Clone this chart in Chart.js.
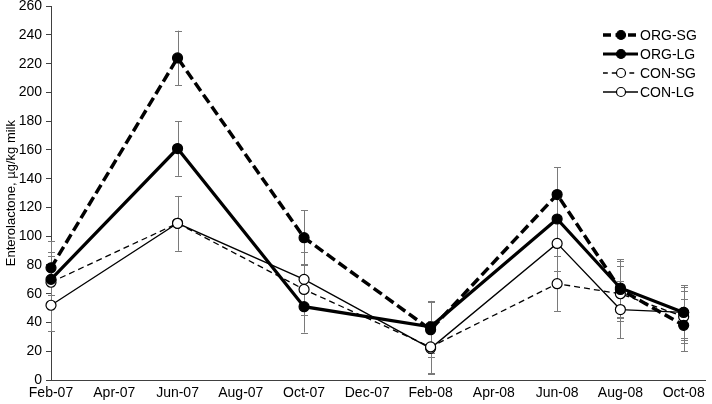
<!DOCTYPE html>
<html><head><meta charset="utf-8">
<script src="https://cdn.jsdelivr.net/npm/chart.js@4.4.1/dist/chart.umd.min.js"></script>
<style>html,body{margin:0;padding:0;background:#fff}#wrap{width:712px;height:404px}</style>
</head><body><div id="wrap"><canvas id="c" width="712" height="404"></canvas></div>
<script>
// months since Feb-07
const monthIndex = [0, 4, 8, 12, 16, 18, 20];
const seriesNames = ['ORG-SG', 'ORG-LG', 'CON-SG', 'CON-LG'];
const orgSG = [78, 224, 99, 35, 129, 63, 38];
const orgLG = [70, 161, 51, 37, 112, 64, 47];
const conSG = [68, 109, 63, 23, 67, 60, 44];
const conLG = [52, 109, 70, 22, 95, 49, 47];
const orgSGErr = [19, 19, 19, 19, 19, 20, 18];
const orgLGErr = [19, 19, 18, 18, 19, 20, 19];
const conSGErr = [18, 19, 18, 18, 19, 19, 18];
const conLGErr = [18, 19, 19, 18, 19, 20, 18];
const xTickPositions = [0, 2, 4, 6, 8, 10, 12, 14, 16, 18, 20];
const xTickLabels = ['Feb-07','Apr-07','Jun-07','Aug-07','Oct-07','Dec-07','Feb-08','Apr-08','Jun-08','Aug-08','Oct-08'];
const yAxisTitle = 'Enterolactone, µg/kg milk';

const FONT = 'Arial, "Liberation Sans", sans-serif';

const styles = [
  {bw: 3.5, dash: [10, 4.5], fill: '#000', r: 5},
  {bw: 3.2, dash: [], fill: '#000', r: 5},
  {bw: 1.3, dash: [6, 4], fill: '#fff', r: 5},
  {bw: 1.3, dash: [], fill: '#fff', r: 5}
];
const values = [orgSG, orgLG, conSG, conLG];
const errors = [orgSGErr, orgLGErr, conSGErr, conLGErr];

const datasets = values.map((vals, i) => ({
  label: seriesNames[i],
  data: vals.map((v, j) => ({x: monthIndex[j], y: v})),
  errors: errors[i],
  borderColor: '#000',
  borderWidth: styles[i].bw,
  borderDash: styles[i].dash,
  pointRadius: styles[i].r,
  pointBackgroundColor: styles[i].fill,
  pointBorderColor: '#000',
  pointBorderWidth: 1.2,
  tension: 0,
  clip: false
}));

const errorBars = {
  id: 'errorBars',
  beforeDatasetsDraw(chart) {
    const ctx = chart.ctx, xs = chart.scales.x, ys = chart.scales.y;
    ctx.save();
    ctx.strokeStyle = '#7a7a7a';
    ctx.lineWidth = 1;
    chart.data.datasets.forEach(ds => {
      ds.data.forEach((p, j) => {
        const e = ds.errors[j];
        const x = Math.round(xs.getPixelForValue(p.x)) + 0.5;
        const y1 = ys.getPixelForValue(p.y + e), y2 = ys.getPixelForValue(p.y - e);
        ctx.beginPath();
        ctx.moveTo(x, y1); ctx.lineTo(x, y2);
        ctx.moveTo(x - 3.5, Math.round(y1) + 0.5); ctx.lineTo(x + 3.5, Math.round(y1) + 0.5);
        ctx.moveTo(x - 3.5, Math.round(y2) + 0.5); ctx.lineTo(x + 3.5, Math.round(y2) + 0.5);
        ctx.stroke();
      });
    });
    ctx.restore();
  }
};

const legendRows = [35, 54, 73, 92];
const customLegend = {
  id: 'customLegend',
  afterDraw(chart) {
    const ctx = chart.ctx;
    ctx.save();
    seriesNames.forEach((name, i) => {
      const y = legendRows[i];
      const s = styles[i];
      ctx.strokeStyle = '#000';
      ctx.lineWidth = s.bw;
      ctx.setLineDash(s.dash.length ? [s.dash[0] * 0.8, s.dash[1]] : []);
      ctx.beginPath();
      ctx.moveTo(603, y); ctx.lineTo(638, y);
      ctx.stroke();
      ctx.setLineDash([]);
      ctx.beginPath();
      ctx.arc(621, y, s.r - 0.5, 0, Math.PI * 2);
      ctx.fillStyle = s.fill;
      ctx.fill();
      ctx.lineWidth = 1.2;
      ctx.stroke();
      ctx.fillStyle = '#000';
      ctx.font = '14px ' + FONT;
      ctx.textAlign = 'left';
      ctx.textBaseline = 'middle';
      ctx.fillText(name, 640, y + 1);
    });
    ctx.restore();
  }
};

new Chart(document.getElementById('c'), {
  type: 'line',
  data: {datasets},
  plugins: [errorBars, customLegend],
  options: {
    responsive: false,
    animation: false,
    devicePixelRatio: 1,
    layout: {padding: {top: 5, left: 0, right: 0, bottom: 0}},
    plugins: {legend: {display: false}, tooltip: {enabled: false}},
    scales: {
      x: {
        type: 'linear',
        min: 0,
        max: 20.7,
        afterBuildTicks(scale) { scale.ticks = xTickPositions.map(v => ({value: v})); },
        afterFit(scale) { scale.height = 24; scale.paddingRight = 0; scale.paddingLeft = 0; },
        ticks: {
          autoSkip: false, maxRotation: 0,
          color: '#000', font: {family: FONT, size: 14}, padding: 5,
          callback: (v) => { const k = xTickPositions.indexOf(v); return k >= 0 ? xTickLabels[k] : ''; }
        },
        grid: {display: true, drawOnChartArea: false, drawTicks: false},
        border: {display: true, color: '#404040', width: 1}
      },
      y: {
        type: 'linear',
        min: 0, max: 260,
        afterFit(scale) { scale.width = 51; scale.paddingTop = 0; scale.paddingBottom = 0; },
        ticks: {stepSize: 20, color: '#000', font: {family: FONT, size: 14}, padding: 4},
        grid: {display: true, drawOnChartArea: false, drawTicks: true, tickLength: 5, color: '#404040'},
        border: {display: true, color: '#404040', width: 1},
        title: {display: true, text: yAxisTitle, color: '#000', font: {family: FONT, size: 13}, padding: {top: 4, bottom: 0}}
      }
    }
  }
});
</script></body></html>
